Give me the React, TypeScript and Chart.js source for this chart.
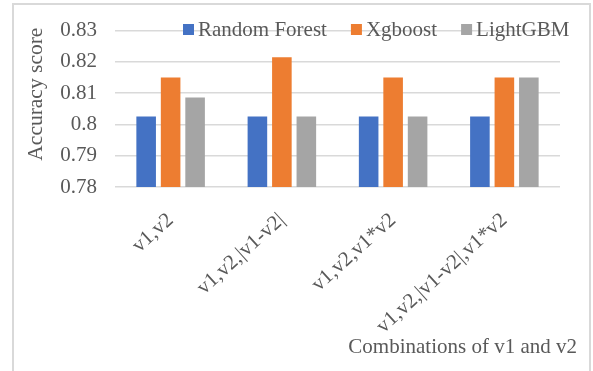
import React, { useEffect, useRef } from "react";
import { Chart, registerables } from "chart.js";

Chart.register(...registerables);

const categories = ["v1,v2", "v1,v2,|v1-v2|", "v1,v2,v1*v2", "v1,v2,|v1-v2|,v1*v2"];
const seriesNames = ["Random Forest", "Xgboost", "LightGBM"];
const randomForest = [0.8025, 0.8025, 0.8025, 0.8025];
const xgboost = [0.815, 0.8215, 0.815, 0.815];
const lightGBM = [0.8086, 0.8025, 0.8025, 0.815];
const seriesColors = ["#4472C4", "#ED7D31", "#A5A5A5"];
const yMin = 0.78;
const yMax = 0.83;
const yStep = 0.01;
const yTitle = "Accuracy score";
const xTitle = "Combinations of v1 and v2";

const FONT = '"Liberation Serif", "Times New Roman", serif';
const FS = 21;
const TEXT = "#595959";
const GRID = "#D9D9D9";

const overlayPlugin = {
  id: "overlay",
  afterDraw(chart: any) {
    const ctx = chart.ctx;
    const area = chart.chartArea;
    ctx.save();
    ctx.font = `${FS}px ${FONT}`;
    ctx.textBaseline = "middle";
    ctx.textAlign = "left";
    let x = 183;
    const y = 30;
    chart.data.datasets.forEach((ds: any) => {
      ctx.fillStyle = ds.backgroundColor;
      ctx.fillRect(x, y - 6, 11, 11);
      ctx.fillStyle = TEXT;
      ctx.fillText(ds.label, x + 15, y);
      x += 15 + ctx.measureText(ds.label).width + 24;
    });
    // x-axis title
    ctx.textAlign = "right";
    ctx.fillStyle = TEXT;
    ctx.fillText(xTitle, area.right + 17, 347);
    // y-axis title
    ctx.save();
    ctx.font = `21.5px ${FONT}`;
    ctx.translate(36, area.top - 3);
    ctx.rotate(-Math.PI / 2);
    ctx.textAlign = "right";
    ctx.textBaseline = "middle";
    ctx.fillText(yTitle, 0, 0);
    ctx.restore();
    ctx.restore();
  },
};

export default function App() {
  const ref = useRef<HTMLCanvasElement | null>(null);

  useEffect(() => {
    if (!ref.current) return;
    const seriesData = [randomForest, xgboost, lightGBM];
    const chart = new Chart(ref.current, {
      type: "bar",
      data: {
        labels: categories,
        datasets: seriesNames.map((name, i) => ({
          label: name,
          data: seriesData[i],
          backgroundColor: seriesColors[i],
          borderWidth: 0,
          barPercentage: 0.8,
          categoryPercentage: 0.66,
        })),
      },
      options: {
        animation: false,
        responsive: false,
        layout: { padding: { left: 15, right: 33, top: 16, bottom: 0 } },
        plugins: {
          legend: { display: false },
          tooltip: { enabled: false },
        },
        scales: {
          x: {
            grid: { display: false },
            border: { display: false },
            ticks: {
              autoSkip: false,
              minRotation: 42,
              maxRotation: 42,
              padding: 13,
              color: TEXT,
              font: { family: FONT, size: FS },
            },
            afterFit(scale: any) {
              scale.height = 184;
            },
          },
          y: {
            min: yMin,
            max: yMax,
            grid: { color: GRID, lineWidth: 1.5, drawTicks: false },
            border: { display: false },
            ticks: {
              stepSize: yStep,
              padding: 18,
              color: TEXT,
              font: { family: FONT, size: FS },
              callback: (v: any) => String(Number(Number(v).toFixed(2))),
            },
            afterFit(scale: any) {
              scale.width = 100;
            },
          },
        },
      },
      plugins: [overlayPlugin],
    } as any);
    return () => chart.destroy();
  }, []);

  return (
    <div style={{ position: "fixed", left: 0, top: 0, width: 593, height: 371, background: "#fff", overflow: "hidden" }}>
      <div
        style={{
          position: "absolute",
          left: 12,
          top: 3,
          width: 579,
          height: 400,
          border: `2px solid ${GRID}`,
          boxSizing: "border-box",
        }}
      />
      <canvas ref={ref} width={593} height={371} style={{ position: "absolute", left: 0, top: 0 }} />
    </div>
  );
}
